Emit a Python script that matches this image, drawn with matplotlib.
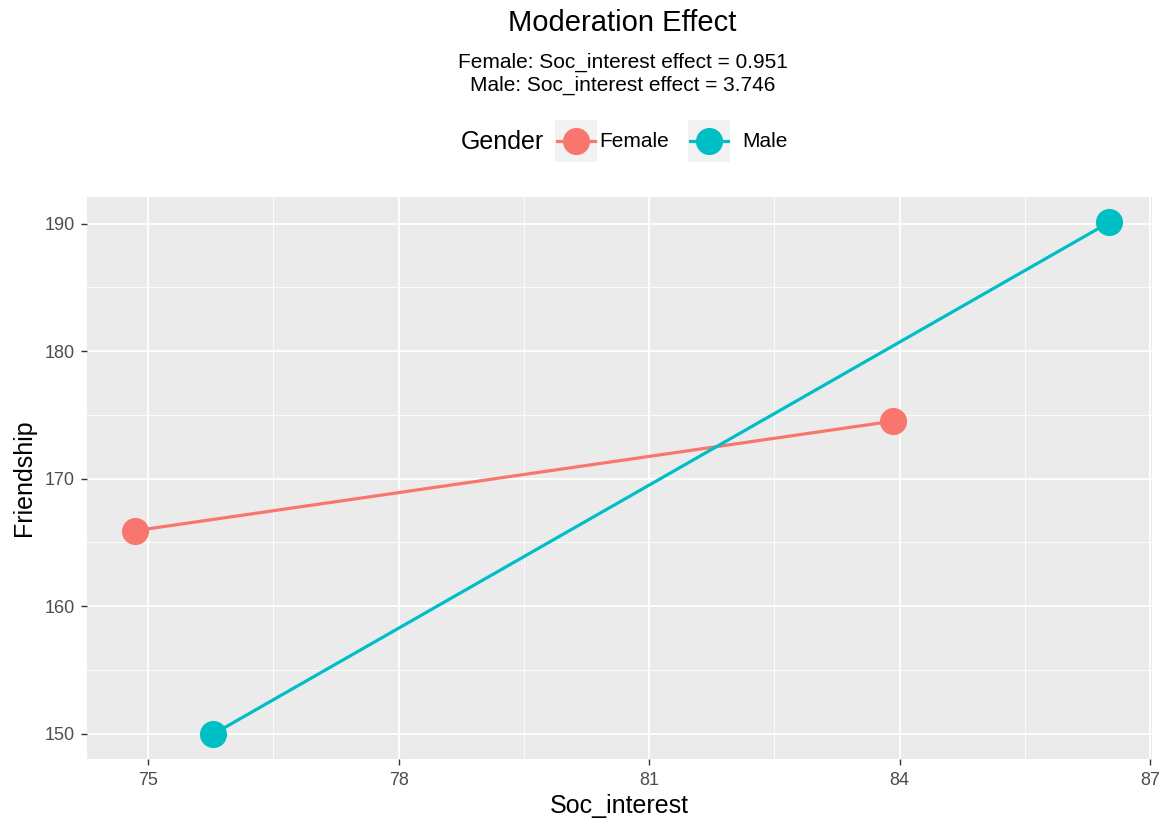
import matplotlib.pyplot as plt
from matplotlib.lines import Line2D
from matplotlib.patches import Rectangle
from matplotlib.ticker import MultipleLocator

# data
genders = ["Female", "Male"]
soc_interest = {"Female": [74.84, 83.92], "Male": [75.78, 86.51]}
friendship = {"Female": [165.9, 174.5], "Male": [149.95, 190.1]}
effects = {"Female": 0.951, "Male": 3.746}
colors = {"Female": "#F8766D", "Male": "#00BFC4"}
x_ticks = [75, 78, 81, 84, 87]
y_ticks = [150, 160, 170, 180, 190]
x_lim = (74.27, 87.02)
y_lim = (148.0, 192.08)

W, H = 1166, 822
plt.rcParams["font.family"] = ["Liberation Sans", "DejaVu Sans"]

fig = plt.figure(figsize=(W / 100, H / 100), dpi=100)
ax = fig.add_axes([87 / W, 1 - 759 / H, (1152 - 87) / W, (759 - 197) / H])
ax.set_facecolor("#EBEBEB")
for s in ax.spines.values():
    s.set_visible(False)

for g in genders:
    ax.plot(soc_interest[g], friendship[g], color=colors[g], lw=2.3,
            marker="o", ms=18.5, zorder=3)

ax.set_xlim(*x_lim)
ax.set_ylim(*y_lim)
ax.set_xticks(x_ticks)
ax.set_yticks(y_ticks)
ax.xaxis.set_minor_locator(MultipleLocator(1.5))
ax.yaxis.set_minor_locator(MultipleLocator(5))
ax.grid(which="major", color="white", lw=1.3)
ax.grid(which="minor", color="white", lw=0.6)
ax.set_axisbelow(True)
ax.tick_params(which="major", length=4, width=1, color="#333333",
               labelsize=13, labelcolor="#4D4D4D", pad=5)
ax.tick_params(which="minor", length=0)
ax.set_xlabel("Soc_interest", fontsize=18, labelpad=4)
ax.set_ylabel("Friendship", fontsize=18, labelpad=6)

# title and subtitle
fig.text(622 / W, 1 - 23 / H, "Moderation Effect", fontsize=21,
         ha="center", va="center")
sub = "\n".join(f"{g}: Soc_interest effect = {effects[g]:.3f}" for g in genders)
fig.text(623 / W, 1 - 74 / H, sub, fontsize=15, ha="center", va="center",
         linespacing=1.22)

# legend drawn in figure pixels, title on the left like ggplot
tr = fig.transFigure
fig.text(461 / W, 1 - 142 / H, "Gender", fontsize=18, ha="left", va="center")
key_x = {"Female": 576, "Male": 709}
lab_x = {"Female": 599, "Male": 742}
for g in genders:
    cx, cy = key_x[g], 141
    fig.add_artist(Rectangle(((cx - 21) / W, 1 - (cy + 21) / H), 42 / W, 42 / H,
                             transform=tr, facecolor="#F2F2F2", edgecolor="none"))
    fig.add_artist(Line2D([(cx - 19) / W, (cx + 19) / W], [1 - cy / H] * 2,
                          transform=tr, color=colors[g], lw=2.3))
    fig.add_artist(Line2D([cx / W], [1 - cy / H], transform=tr, color=colors[g],
                          marker="o", ms=18.5))
    fig.text(lab_x[g] / W, 1 - cy / H, g, fontsize=15, ha="left", va="center")

fig.savefig("out.png", dpi=100)
